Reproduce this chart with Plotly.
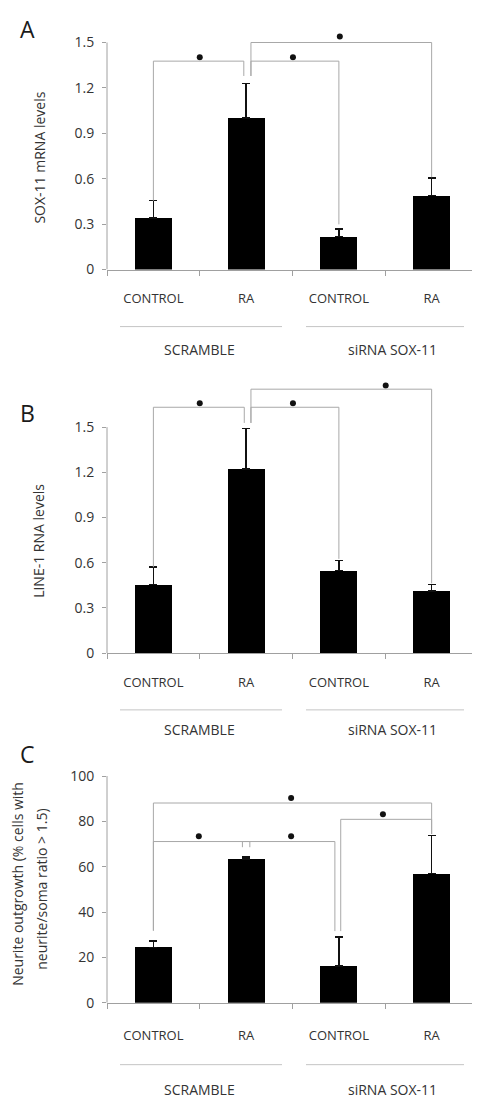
import plotly.graph_objects as go

# The page places the figure 8px from the top-left corner (default body margin),
# so the figure is sized to fill exactly the rest of the 480x1112 window.
OFF = 8
W, H = 480 - OFF, 1112 - OFF

# ---------------- data ----------------
conditions = ["CONTROL", "RA", "CONTROL", "RA"]
groups = ["SCRAMBLE", "siRNA SOX-11"]
xpos = [0, 1, 2, 3]

sox11_mean = [0.34, 1.00, 0.22, 0.49]
sox11_err = [0.115, 0.229, 0.048, 0.116]

line1_mean = [0.457, 1.223, 0.548, 0.413]
line1_err = [0.114, 0.267, 0.067, 0.044]

neurite_mean = [24.4, 63.3, 16.3, 56.9]
neurite_err = [2.8, 1.0, 12.7, 16.8]

sox11_ticks = [0, 0.3, 0.6, 0.9, 1.2, 1.5]
line1_ticks = [0, 0.3, 0.6, 0.9, 1.2, 1.5]
neurite_ticks = [0, 20, 40, 60, 80, 100]

# significance brackets: (x_left, x_right, y_top, y_left_end, y_right_end)
sox11_brackets = [(0, 0.975, 1.377, 0.455, 1.279),
                  (1.052, 2.0, 1.377, 1.279, 0.299),
                  (1.052, 3.0, 1.5, 1.279, 0.61)]
sox11_stars_x = [0.5, 1.505, 2.01]
sox11_stars_y = [1.403, 1.403, 1.539]

line1_brackets = [(0, 0.98, 1.632, 0.571, 1.528),
                  (1.052, 2.0, 1.632, 1.528, 0.626),
                  (1.052, 3.0, 1.752, 1.528, 0.463)]
line1_stars_x = [0.5, 1.505, 2.505]
line1_stars_y = [1.659, 1.659, 1.776]

neurite_brackets = [(0, 3.0, 88.1, 31.8, 74.4),
                    (0, 1.04, 71.1, 31.8, 68.6),
                    (0.96, 1.957, 71.1, 68.6, 31.6),
                    (2.02, 3.0, 80.9, 31.6, 74.4)]
neurite_stars_x = [0.49, 1.485, 1.485, 2.475]
neurite_stars_y = [73.4, 73.4, 90.3, 83.1]

# ---------------- layout helpers (window pixels -> paper) ----------------
def py(p):
    return 1 - (p - OFF) / H

def pxx(p):
    return (p - OFF) / W

FONT = "Open Sans"
TXT = "#333333"
AX = "#a0a0a0"
BR = "#a8a8a8"

panels = [
    dict(mean=sox11_mean, err=sox11_err, ticks=sox11_ticks,
         zero_px=264.0, top_px=20.0, top_val=1.584, br=sox11_brackets,
         sx=sox11_stars_x, sy=sox11_stars_y, letter="A", letter_y=19,
         line_y=322, grp_y=345, standoff=17),
    dict(mean=line1_mean, err=line1_err, ticks=line1_ticks,
         zero_px=654.3, top_px=375.0, top_val=1.8216, br=line1_brackets,
         sx=line1_stars_x, sy=line1_stars_y, letter="B", letter_y=410,
         line_y=712, grp_y=732, standoff=17),
    dict(mean=neurite_mean, err=neurite_err, ticks=neurite_ticks,
         zero_px=1010.0, top_px=779.3, top_val=100.0, br=neurite_brackets,
         sx=neurite_stars_x, sy=neurite_stars_y, letter="C", letter_y=757,
         line_y=1073, grp_y=1098, standoff=21),
]

fig = go.Figure()
shapes = []
annotations = []

xdom = [pxx(107), pxx(478)]

for i, p in enumerate(panels):
    n = "" if i == 0 else str(i + 1)
    xa, ya = "x" + n, "y" + n
    fig.add_trace(go.Bar(
        x=xpos, y=p["mean"], width=0.4, marker=dict(color="black", line=dict(width=0)),
        error_y=dict(type="data", symmetric=False, array=p["err"],
                     arrayminus=[0] * 4, color="#111111", thickness=1.5, width=4),
        xaxis=xa, yaxis=ya, showlegend=False, hoverinfo="skip"))
    fig.add_trace(go.Scatter(
        x=p["sx"], y=p["sy"], mode="markers", cliponaxis=False,
        marker=dict(color="#111111", size=6, symbol="circle"),
        xaxis=xa, yaxis=ya, showlegend=False, hoverinfo="skip"))

    ydom = [py(p["zero_px"]), py(p["top_px"])]
    fig.layout["xaxis" + n] = dict(
        domain=xdom, anchor=ya, range=[-0.5, 3.5], showgrid=False, zeroline=False,
        showline=True, linecolor=AX, linewidth=1,
        tickmode="array", tickvals=xpos, ticktext=conditions, ticks="",
        ticklabelstandoff=p["standoff"],
        tickfont=dict(family=FONT, size=13, color=TXT),
        minor=dict(tickmode="array", tickvals=[-0.5, 0.5, 1.5, 2.5, 3.5],
                   ticks="outside", ticklen=5, tickcolor=AX, tickwidth=1),
        fixedrange=True)
    fig.layout["yaxis" + n] = dict(
        domain=ydom, anchor=xa, range=[0, p["top_val"]], showgrid=False,
        zeroline=False, showline=False,
        tickmode="array", tickvals=p["ticks"],
        ticktext=["{:g}".format(t) for t in p["ticks"]],
        ticks="outside", ticklen=4, tickcolor=AX, tickwidth=1,
        ticklabelstandoff=5,
        tickfont=dict(family=FONT, size=14, color=TXT), fixedrange=True)

    # y axis line up to the top tick
    shapes.append(dict(type="line", xref=xa + " domain", yref=ya, x0=0, x1=0,
                       y0=0, y1=p["ticks"][-1], line=dict(color=AX, width=1)))

    # brackets
    for (x0, x1, yt, yl, yr) in p["br"]:
        shapes.append(dict(type="path", xref=xa, yref=ya,
                           path=f"M {x0},{yl} L {x0},{yt} L {x1},{yt} L {x1},{yr}",
                           line=dict(color=BR, width=1)))

    # group lines and labels
    for (a, b) in [(120, 282), (306, 464)]:
        shapes.append(dict(type="line", xref="paper", yref="paper",
                           x0=pxx(a), x1=pxx(b), y0=py(p["line_y"]), y1=py(p["line_y"]),
                           line=dict(color="#c4c4c4", width=1)))
    for g, cx in zip(groups, [199, 392]):
        annotations.append(dict(text=g, x=pxx(cx), y=py(p["grp_y"]),
                                xref="paper", yref="paper", showarrow=False,
                                xanchor="center", yanchor="middle",
                                font=dict(family=FONT, size=14, color=TXT)))
    annotations.append(dict(text=p["letter"], x=pxx(27), y=py(p["letter_y"]),
                            xref="paper", yref="paper", showarrow=False,
                            xanchor="center", yanchor="middle",
                            font=dict(family=FONT, size=23, color="#1a1a1a")))

# y titles
for txt, cx, cy in [("SOX-11 mRNA levels", 40, 150),
                    ("LINE-1 RNA levels", 39, 540),
                    ("Neurite outgrowth (% cells with", 18, 889),
                    ("neurite/soma ratio > 1.5)", 42, 895)]:
    annotations.append(dict(text=txt, x=pxx(cx), y=py(cy),
                            xref="paper", yref="paper", showarrow=False, textangle=-90,
                            xanchor="center", yanchor="middle",
                            font=dict(family=FONT, size=14, color=TXT)))

fig.update_layout(
    width=W, height=H, margin=dict(l=0, r=0, t=0, b=0),
    paper_bgcolor="white", plot_bgcolor="white",
    shapes=shapes, annotations=annotations, bargap=0,
    font=dict(family=FONT, size=13, color=TXT))

fig.write_html("out.html")
